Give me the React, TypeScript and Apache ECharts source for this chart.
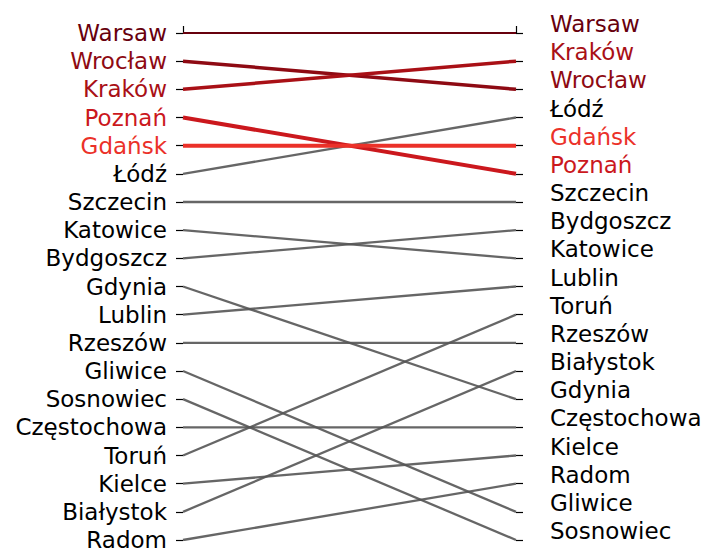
import React, { useEffect, useRef } from "react";
import * as echarts from "echarts";

const leftNames = [
  "Warsaw", "Wrocław", "Kraków", "Poznań", "Gdańsk", "Łódź", "Szczecin", "Katowice",
  "Bydgoszcz", "Gdynia", "Lublin", "Rzeszów", "Gliwice", "Sosnowiec", "Częstochowa",
  "Toruń", "Kielce", "Białystok", "Radom",
];
const rightNames = [
  "Warsaw", "Kraków", "Wrocław", "Łódź", "Gdańsk", "Poznań", "Szczecin", "Bydgoszcz",
  "Katowice", "Lublin", "Toruń", "Rzeszów", "Białystok", "Gdynia", "Częstochowa",
  "Kielce", "Radom", "Gliwice", "Sosnowiec",
];
const highlightColors: Record<string, string> = {
  "Warsaw": "#67000d",
  "Wrocław": "#8e0a13",
  "Kraków": "#a91016",
  "Poznań": "#cb181d",
  "Gdańsk": "#eb3129",
};
const highlightWidths: Record<string, number> = {
  "Warsaw": 2,
  "Wrocław": 3.5,
  "Kraków": 3.5,
  "Poznań": 4,
  "Gdańsk": 4,
};

const keyOf = (name: string) => "k" + leftNames.indexOf(name);

export default function App() {
  const ref = useRef<HTMLDivElement>(null);
  useEffect(() => {
    if (!ref.current) return;
    const chart = echarts.init(ref.current, undefined, { renderer: "svg" });
    const makeRich = (padding: number[]) => {
      const rich: Record<string, any> = {};
      leftNames.forEach((n) => {
        rich[keyOf(n)] = {
          color: highlightColors[n] || "#000000",
          fontSize: 23,
          fontFamily: "DejaVu Sans",
          padding,
        };
      });
      return rich;
    };
    const fmt = (names: string[]) => (v: number) => {
      const n = names[Math.round(v) - 1];
      return n ? `{${keyOf(n)}|${n}}` : "";
    };
    const series = leftNames.map((name) => {
      const hl = highlightColors[name];
      return {
        type: "line",
        name,
        data: [
          [0, leftNames.indexOf(name) + 1],
          [1, rightNames.indexOf(name) + 1],
        ],
        symbol: "none",
        silent: true,
        z: hl ? 5 : 2,
        lineStyle: {
          color: hl || "#555555",
          width: hl ? highlightWidths[name] : 2.3,
          opacity: hl ? 1 : 0.9,
        },
      };
    });
    const yBase = {
      type: "value",
      min: 1,
      max: 19,
      interval: 1,
      inverse: true,
      axisLine: { show: false },
      axisTick: { show: true, length: 7, lineStyle: { color: "#000", width: 1.2 } },
      splitLine: { show: false },
    };
    chart.setOption({
      animation: false,
      grid: { left: 183, right: 202, top: 33, bottom: 18 },
      xAxis: {
        type: "value",
        min: 0,
        max: 1,
        interval: 1,
        position: "top",
        axisLine: { show: false },
        axisTick: { show: true, length: 7, lineStyle: { color: "#000", width: 1.2 } },
        axisLabel: { show: false },
        splitLine: { show: false },
      },
      yAxis: [
        {
          ...yBase,
          position: "left",
          axisLabel: { margin: 16, formatter: fmt(leftNames), rich: makeRich([0, 0, 0, 0]) },
        },
        {
          ...yBase,
          position: "right",
          axisLabel: { margin: 34, formatter: fmt(rightNames), rich: makeRich([0, 0, 18, 0]) },
        },
      ],
      series,
    });
    return () => chart.dispose();
  }, []);
  return (
    <div
      ref={ref}
      style={{ position: "fixed", left: 0, top: 0, width: 718, height: 558, background: "#fff" }}
    />
  );
}
